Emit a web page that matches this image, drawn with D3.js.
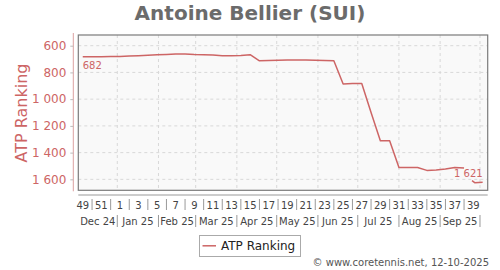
<!DOCTYPE html>
<html><head><meta charset="utf-8">
<script src="https://cdn.jsdelivr.net/npm/d3@7"></script>
<style>
body{margin:0;background:#fff;}
svg{font-family:"DejaVu Sans",sans-serif;}
</style></head>
<body><svg id="c" width="500" height="270"></svg>
<script>
// ---- data ----
const title = "Antoine Bellier (SUI)";
const seriesName = "ATP Ranking";
const dates = [
 "2024-12-06","2024-12-13","2024-12-20","2024-12-27","2025-01-03","2025-01-10","2025-01-17","2025-01-24",
 "2025-01-31","2025-02-07","2025-02-14","2025-02-21","2025-02-28","2025-03-07","2025-03-14","2025-03-21",
 "2025-03-28","2025-04-04","2025-04-11","2025-04-18","2025-04-25","2025-05-02","2025-05-09","2025-05-16",
 "2025-05-23","2025-05-30","2025-06-06","2025-06-13","2025-06-20","2025-06-27","2025-07-04","2025-07-11",
 "2025-07-18","2025-07-25","2025-08-01","2025-08-08","2025-08-15","2025-08-22","2025-08-29","2025-09-05",
 "2025-09-12","2025-09-19","2025-09-22","2025-09-25","2025-09-27","2025-10-03"];
const ranks = [
 682,682,682,681,680,678,675,671,
 667,665,662,662,666,667,670,675,
 675,673,667,713,711,708,707,707,
 707,708,710,712,887,883,883,1100,
 1311,1311,1512,1512,1512,1533,1530,1522,
 1512,1516,null,1610,1625,1621];
const weekLabels = ["49","51","1","3","5","7","9","11","13","15","17","19","21","23","25","27","29","31","33","35","37","39"];
const weekDates = ["2024-12-06","2024-12-20","2025-01-03","2025-01-17","2025-01-31","2025-02-14","2025-02-28","2025-03-14",
 "2025-03-28","2025-04-11","2025-04-25","2025-05-09","2025-05-23","2025-06-06","2025-06-20","2025-07-04","2025-07-18",
 "2025-08-01","2025-08-15","2025-08-29","2025-09-12","2025-09-26"];
const monthLabels = ["Dec 24","Jan 25","Feb 25","Mar 25","Apr 25","May 25","Jun 25","Jul 25","Aug 25","Sep 25"];
const monthStarts = ["2024-12-01","2025-01-01","2025-02-01","2025-03-01","2025-04-01","2025-05-01","2025-06-01","2025-07-01","2025-08-01","2025-09-01","2025-10-01"];
const yTicks = [600,800,1000,1200,1400,1600];
const footer = "\u00A9 www.coretennis.net, 12-10-2025";

// ---- layout ----
const RED = "#cd6565";
const P = {l:78.3, r:487.7, t:35, b:190.3};
const parse = d3.utcParse("%Y-%m-%d");
const x = d3.scaleUtc()
  .domain([new Date(Date.UTC(2024,11,2,15,36)), new Date(Date.UTC(2025,9,6,19,12))])
  .range([P.l, P.r]);
const y = d3.scaleLinear().domain([520,1682]).range([P.t,P.b]);
const fmt = d3.formatLocale({decimal:".",thousands:" ",grouping:[3],currency:["",""]}).format(",d");

const svg = d3.select("#c");

svg.append("text").attr("x",250).attr("y",20).attr("text-anchor","middle")
  .attr("font-size",20).attr("font-weight","bold").attr("fill","#6b6b6b").text(title);

// plot bg
svg.append("rect").attr("x",P.l).attr("y",P.t).attr("width",P.r-P.l).attr("height",P.b-P.t)
  .attr("fill","#f9f9f9");

// grids
const mDates = monthStarts.map(parse);
svg.append("g").selectAll("line").data(mDates.slice(1)).join("line")
  .attr("x1",d=>x(d)).attr("x2",d=>x(d)).attr("y1",P.t).attr("y2",P.b)
  .attr("stroke","#d8d8d8").attr("stroke-dasharray","3,3");
svg.append("g").selectAll("line").data(yTicks).join("line")
  .attr("x1",P.l).attr("x2",P.r).attr("y1",d=>y(d)).attr("y2",d=>y(d))
  .attr("stroke","#d8d8d8").attr("stroke-dasharray","3,3");

// frame
svg.append("rect").attr("x",P.l).attr("y",P.t).attr("width",P.r-P.l).attr("height",P.b-P.t)
  .attr("fill","none").attr("stroke","#7a7a7a").attr("stroke-width",1.2);

// y axis
const yAxis = d3.axisLeft(y).tickValues(yTicks).tickFormat(fmt).tickSize(3).tickPadding(4);
const ga = svg.append("g").attr("transform","translate(73.3,0)").call(yAxis);
ga.select(".domain").attr("stroke","#dba0a0").attr("d",`M0,${P.t-2}V${P.b+1}`);
ga.selectAll(".tick line").attr("stroke","#bbb");
ga.selectAll(".tick text").attr("fill",RED).attr("font-size",12).attr("font-family","DejaVu Sans");

svg.append("text").attr("transform","translate(26.5,113) rotate(-90)").attr("text-anchor","middle")
  .attr("font-size",16).attr("fill",RED).text(seriesName);

// x axis line
svg.append("line").attr("x1",P.l).attr("x2",P.r).attr("y1",195).attr("y2",195).attr("stroke","#999");

// week labels
const wd = weekDates.map(parse);
svg.append("g").selectAll("text").data(weekLabels).join("text")
  .attr("x",(d,i)=>x(wd[i])).attr("y",208.5).attr("text-anchor","middle")
  .attr("font-size",10).attr("fill","#444").text(d=>d);
const seps = wd.slice(1).map((d,i)=> (x(wd[i])+x(d))/2);
svg.append("g").selectAll("line").data(seps).join("line")
  .attr("x1",d=>d).attr("x2",d=>d).attr("y1",199).attr("y2",210)
  .attr("stroke","#999");

// month labels
svg.append("g").selectAll("text").data(monthLabels).join("text")
  .attr("x",(d,i)=>(Math.max(P.l,x(mDates[i]))+x(mDates[i+1]))/2).attr("y",224.5).attr("text-anchor","middle")
  .attr("font-size",10).attr("fill","#444").text(d=>d);
svg.append("g").selectAll("line").data(mDates.slice(1)).join("line")
  .attr("x1",d=>x(d)).attr("x2",d=>x(d)).attr("y1",215).attr("y2",227)
  .attr("stroke","#999");

// line
const pts = dates.map((d,i)=>({d:parse(d),v:ranks[i]}));
const line = d3.line().defined(p=>p.v!=null).x(p=>x(p.d)).y(p=>y(p.v));
svg.append("path").datum(pts).attr("d",line).attr("fill","none")
  .attr("stroke",RED).attr("stroke-width",1.5).attr("stroke-linejoin","round");

// end labels
const first = pts[0], last = pts[pts.length-1];
svg.append("text").attr("x",x(first.d)).attr("y",y(first.v)+12).attr("font-size",10)
  .attr("fill",RED).text(fmt(first.v));
svg.append("text").attr("x",x(last.d)).attr("y",y(last.v)-5.5).attr("text-anchor","end").attr("font-size",10)
  .attr("fill",RED).text(fmt(last.v));

// legend
svg.append("rect").attr("x",199.5).attr("y",235.5).attr("width",101).attr("height",21)
  .attr("fill","#fff").attr("stroke","#aaa");
svg.append("line").attr("x1",202.5).attr("x2",216).attr("y1",245.8).attr("y2",245.8)
  .attr("stroke",RED).attr("stroke-width",1.5);
svg.append("text").attr("x",221).attr("y",250.3).attr("font-size",12).attr("fill","#222").text(seriesName);

// footer
svg.append("text").attr("x",489).attr("y",266).attr("text-anchor","end").attr("font-size",10)
  .attr("fill","#555").text(footer);
</script></body></html>
